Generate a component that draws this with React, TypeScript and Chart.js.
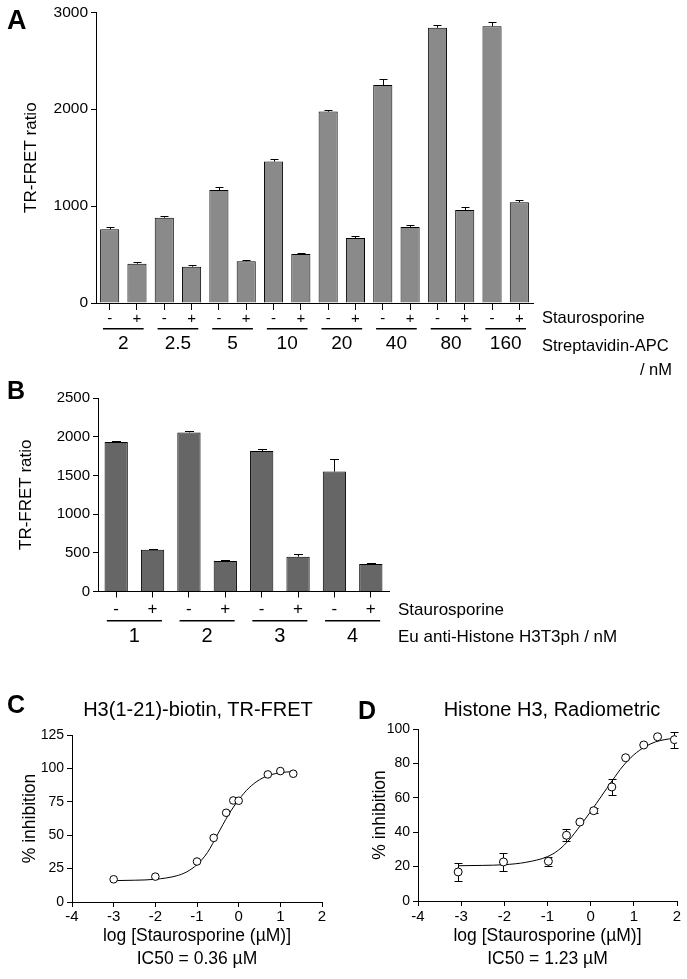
import React, { useEffect, useRef } from 'react';
import { Chart, registerables } from 'chart.js';
Chart.register(...registerables);

const FONT = '"Liberation Sans", Arial, Helvetica, sans-serif';
Chart.defaults.font.family = FONT;
Chart.defaults.color = '#000';

// ---------- Panel A data ----------
const aGroups = ['2', '2.5', '5', '10', '20', '40', '80', '160'];
const aMinus = [760, 880, 1165, 1460, 1975, 2250, 2840, 2855];
const aMinusErr = [20, 22, 30, 30, 12, 65, 30, 45];
const aPlus = [405, 375, 430, 505, 670, 785, 960, 1040];
const aPlusErr = [20, 20, 12, 12, 18, 15, 30, 20];

// ---------- Panel B data ----------
const bGroups = ['1', '2', '3', '4'];
const bMinus = [1930, 2055, 1815, 1550];
const bMinusErr = [20, 25, 22, 165];
const bPlus = [540, 395, 450, 355];
const bPlusErr = [15, 8, 30, 14];

// ---------- Panel C data ----------
const cX = [-3, -2, -1, -0.6, -0.3, -0.13, 0, 0.7, 1, 1.31];
const cY = [17, 19, 30.3, 48, 66.8, 76, 75.8, 95.5, 98, 96];
const cCurveX = [-3, -2.5, -2, -1.5, -1.25, -1, -0.75, -0.5, -0.25, 0, 0.25, 0.5, 0.75, 1, 1.3];
const cCurveY = [16, 16.3, 17, 19.5, 22.5, 28, 37, 51, 65, 76.5, 85.5, 91.5, 95, 96.8, 97.6];

// ---------- Panel D data ----------
const dX = [-3.07, -2.02, -0.98, -0.56, -0.25, 0.07, 0.49, 0.81, 1.23, 1.55, 1.94];
const dY = [16.9, 22.7, 23.1, 38.2, 45.9, 52.5, 66.3, 83.3, 90.7, 95.5, 93.8];
const dErr = [5, 5, 2.7, 3.5, 0, 1.5, 4.4, 0, 0, 0, 4.6];
const dCurveX = [-3.07, -2.5, -2, -1.5, -1, -0.75, -0.5, -0.25, 0, 0.25, 0.5, 0.75, 1, 1.25, 1.5, 1.94];
const dCurveY = [20.5, 20.7, 21.1, 22.5, 25.8, 29.5, 35.5, 43.5, 52, 61, 70, 78.5, 85, 89.5, 92.5, 94.8];

const signLabels = ['-', '+'];

function interleave(m: number[], p: number[]) {
  const out: number[] = [];
  m.forEach((v, i) => out.push(v, p[i]));
  return out;
}
function groupSigns(groups: string[]) {
  const out: string[] = [];
  groups.forEach(() => out.push(signLabels[0], signLabels[1]));
  return out;
}

function barErrorPlugin(errors: number[], capHalf: number) {
  return {
    id: 'barErr',
    afterDatasetsDraw(chart: any) {
      const ctx = chart.ctx;
      const meta = chart.getDatasetMeta(0);
      const ys = chart.scales.y;
      const data = chart.data.datasets[0].data as number[];
      ctx.save();
      ctx.strokeStyle = '#000';
      ctx.lineWidth = 1;
      meta.data.forEach((bar: any, i: number) => {
        const x = Math.round(bar.x) + 0.5;
        const y0 = ys.getPixelForValue(data[i]);
        const y1 = Math.round(ys.getPixelForValue(data[i] + errors[i])) + 0.5;
        ctx.beginPath();
        ctx.moveTo(x, y0);
        ctx.lineTo(x, y1);
        ctx.moveTo(x - capHalf, y1);
        ctx.lineTo(x + capHalf, y1);
        ctx.stroke();
      });
      ctx.restore();
    },
  };
}

function groupPlugin(groups: string[], o: { lineY: number; labelY: number; size: number; frac: number }) {
  return {
    id: 'groups',
    afterDraw(chart: any) {
      const xs = chart.scales.x;
      const ctx = chart.ctx;
      ctx.save();
      ctx.strokeStyle = '#000';
      ctx.lineWidth = 1.5;
      ctx.fillStyle = '#000';
      ctx.font = `${o.size}px ${FONT}`;
      ctx.textAlign = 'center';
      ctx.textBaseline = 'middle';
      groups.forEach((g, i) => {
        const x0 = xs.getPixelForValue(2 * i);
        const x1 = xs.getPixelForValue(2 * i + 1);
        const c = (x0 + x1) / 2;
        const h = (x1 - x0) * o.frac;
        ctx.beginPath();
        ctx.moveTo(c - h, o.lineY);
        ctx.lineTo(c + h, o.lineY);
        ctx.stroke();
        ctx.fillText(g, c, o.labelY);
      });
      ctx.restore();
    },
  };
}

function pointErrorPlugin(xs: number[], ys: number[], errs: number[], capHalf: number) {
  return {
    id: 'ptErr',
    beforeDatasetsDraw(chart: any) {
      const sx = chart.scales.x;
      const sy = chart.scales.y;
      const ctx = chart.ctx;
      ctx.save();
      ctx.strokeStyle = '#000';
      ctx.lineWidth = 1;
      xs.forEach((xv, i) => {
        if (!errs[i]) return;
        const x = Math.round(sx.getPixelForValue(xv)) + 0.5;
        const yt = Math.round(sy.getPixelForValue(ys[i] + errs[i])) + 0.5;
        const yb = Math.round(sy.getPixelForValue(ys[i] - errs[i])) + 0.5;
        ctx.beginPath();
        ctx.moveTo(x, yt);
        ctx.lineTo(x, yb);
        ctx.moveTo(x - capHalf, yt);
        ctx.lineTo(x + capHalf, yt);
        ctx.moveTo(x - capHalf, yb);
        ctx.lineTo(x + capHalf, yb);
        ctx.stroke();
      });
      ctx.restore();
    },
  };
}

const asText = (v: any) => String(v);

function barConfig(p: {
  groups: string[]; minus: number[]; plus: number[]; errM: number[]; errP: number[];
  color: string; barPct: number; top: number; right: number; yWidth: number; xHeight: number;
  yMax: number; yStep: number; yFont: number; xFont: number; xTick: number; xPad: number;
  titlePad: number; lineY: number; labelY: number; groupFont: number; frac: number; cap: number;
}) {
  return {
    type: 'bar',
    data: {
      labels: groupSigns(p.groups),
      datasets: [
        {
          data: interleave(p.minus, p.plus),
          backgroundColor: p.color,
          borderColor: '#000',
          borderWidth: 1,
          barPercentage: p.barPct,
          categoryPercentage: 1,
        },
      ],
    },
    options: {
      responsive: false,
      animation: false,
      devicePixelRatio: 1,
      layout: { padding: { top: p.top, right: p.right, left: 0, bottom: 0 } },
      plugins: { legend: { display: false }, tooltip: { enabled: false } },
      scales: {
        x: {
          grid: { display: true, drawOnChartArea: false, offset: false, tickLength: p.xTick, color: '#000', tickColor: '#000' },
          border: { display: true, color: '#000', width: 1 },
          ticks: { font: { size: p.xFont }, color: '#000', padding: p.xPad, maxRotation: 0, autoSkip: false },
          afterFit: (s: any) => { s.height = p.xHeight; },
        },
        y: {
          min: 0,
          max: p.yMax,
          ticks: { stepSize: p.yStep, font: { size: p.yFont }, color: '#000', padding: 3, callback: asText },
          grid: { display: true, drawOnChartArea: false, tickLength: 5, color: '#000', tickColor: '#000' },
          border: { display: true, color: '#000', width: 1 },
          title: { display: true, text: 'TR-FRET ratio', font: { size: 17 }, color: '#000', padding: { top: p.titlePad, bottom: 0 } },
          afterFit: (s: any) => { s.width = p.yWidth; },
        },
      },
    },
    plugins: [
      barErrorPlugin(interleave(p.errM, p.errP), p.cap),
      groupPlugin(p.groups, { lineY: p.lineY, labelY: p.labelY, size: p.groupFont, frac: p.frac }),
    ],
  };
}

function curveConfig(p: {
  px: number[]; py: number[]; cx: number[]; cy: number[]; errs: number[] | null;
  radius: number; top: number; right: number; yWidth: number; xHeight: number;
  yMax: number; yStep: number; titlePad: number; ic50: string; xPad: number;
}) {
  const plugins: any[] = [];
  if (p.errs) plugins.push(pointErrorPlugin(p.px, p.py, p.errs, 4));
  return {
    type: 'scatter',
    data: {
      datasets: [
        {
          data: p.px.map((x, i) => ({ x, y: p.py[i] })),
          pointRadius: p.radius,
          pointBackgroundColor: '#fff',
          pointBorderColor: '#000',
          pointBorderWidth: 1,
          showLine: false,
        },
        {
          type: 'line',
          data: p.cx.map((x, i) => ({ x, y: p.cy[i] })),
          borderColor: '#000',
          borderWidth: 1,
          pointRadius: 0,
          fill: false,
          cubicInterpolationMode: 'monotone',
        },
      ],
    },
    options: {
      responsive: false,
      animation: false,
      devicePixelRatio: 1,
      layout: { padding: { top: p.top, right: p.right, left: 0, bottom: 0 } },
      plugins: { legend: { display: false }, tooltip: { enabled: false } },
      scales: {
        x: {
          type: 'linear',
          min: -4,
          max: 2,
          ticks: { stepSize: 1, font: { size: 15 }, color: '#000', padding: p.xPad, callback: asText },
          grid: { display: true, drawOnChartArea: false, tickLength: 5, color: '#000', tickColor: '#000' },
          border: { display: true, color: '#000', width: 1 },
          title: {
            display: true,
            text: ['log [Staurosporine (\u00B5M)]', p.ic50],
            font: { size: 17.5, lineHeight: 23 / 17.5 },
            color: '#000',
            padding: { top: 0, bottom: 8 },
          },
          afterFit: (s: any) => { s.height = p.xHeight; },
        },
        y: {
          min: 0,
          max: p.yMax,
          ticks: { stepSize: p.yStep, font: { size: 14 }, color: '#000', padding: 3, callback: asText },
          grid: { display: true, drawOnChartArea: false, tickLength: 5, color: '#000', tickColor: '#000' },
          border: { display: true, color: '#000', width: 1 },
          title: { display: true, text: '% inhibition', font: { size: 17.5 }, color: '#000', padding: { top: p.titlePad, bottom: 0 } },
          afterFit: (s: any) => { s.width = p.yWidth; },
        },
      },
    },
    plugins,
  };
}

function ChartBox({ left, top, width, height, config }: { left: number; top: number; width: number; height: number; config: any }) {
  const ref = useRef<HTMLCanvasElement | null>(null);
  useEffect(() => {
    if (!ref.current) return;
    const chart = new Chart(ref.current, config);
    return () => chart.destroy();
  }, []);
  return (
    <canvas
      ref={ref}
      width={width}
      height={height}
      style={{ position: 'absolute', left, top, width, height, display: 'block' }}
    />
  );
}

function T({ x, y, s, b, a, children }: { x: number; y: number; s: number; b?: boolean; a?: string; children: any }) {
  return (
    <div
      style={{
        position: 'absolute',
        left: x,
        top: y - 0.49 * s,
        fontSize: s,
        fontWeight: b ? 'bold' : 'normal',
        lineHeight: 1,
        fontFamily: FONT,
        whiteSpace: 'nowrap',
        color: '#000',
        transform: a === 'center' ? 'translateX(-50%)' : a === 'right' ? 'translateX(-100%)' : undefined,
      }}
    >
      {children}
    </div>
  );
}

export default function App() {
  const configA = barConfig({
    groups: aGroups, minus: aMinus, plus: aPlus, errM: aMinusErr, errP: aPlusErr,
    color: '#8a8a8a', barPct: 0.7, top: 12, right: 154, yWidth: 96, xHeight: 77,
    yMax: 3000, yStep: 1000, yFont: 15.5, xFont: 15, xTick: 7, xPad: 0,
    titlePad: 21, lineY: 328.7, labelY: 343.5, groupFont: 19, frac: 0.745, cap: 4,
  });
  const configB = barConfig({
    groups: bGroups, minus: bMinus, plus: bPlus, errM: bMinusErr, errP: bPlusErr,
    color: '#666666', barPct: 0.64, top: 18, right: 298, yWidth: 98, xHeight: 58.5,
    yMax: 2500, yStep: 500, yFont: 15, xFont: 17, xTick: 6, xPad: 2,
    titlePad: 16, lineY: 240.7, labelY: 256.7, groupFont: 20, frac: 0.757, cap: 4.5,
  });
  const configC = curveConfig({
    px: cX, py: cY, cx: cCurveX, cy: cCurveY, errs: null, radius: 3.8,
    top: 75, right: 21, yWidth: 72, xHeight: 77, yMax: 125, yStep: 25, titlePad: 20,
    ic50: 'IC50 = 0.36 \u00B5M', xPad: 1,
  });
  const configD = curveConfig({
    px: dX, py: dY, cx: dCurveX, cy: dCurveY, errs: dErr, radius: 4,
    top: 69, right: 10, yWidth: 75, xHeight: 78, yMax: 100, yStep: 20, titlePad: 27,
    ic50: 'IC50 = 1.23 \u00B5M', xPad: 2,
  });

  return (
    <div style={{ position: 'absolute', left: 0, top: 0, width: 687, height: 979, background: '#fff', overflow: 'hidden' }}>
      <ChartBox left={0} top={0} width={687} height={380} config={configA} />
      <ChartBox left={0} top={380} width={687} height={270} config={configB} />
      <ChartBox left={0} top={660} width={343} height={319} config={configC} />
      <ChartBox left={343} top={660} width={344} height={319} config={configD} />

      <T x={7} y={20} s={27} b>A</T>
      <T x={542} y={317} s={16.5}>Staurosporine</T>
      <T x={542} y={345} s={16.5}>Streptavidin-APC</T>
      <T x={672} y={369} s={16.5} a="right">/ nM</T>

      <T x={7} y={390} s={25} b>B</T>
      <T x={398} y={609.5} s={17}>Staurosporine</T>
      <T x={398} y={636.5} s={17}>Eu anti-Histone H3T3ph / nM</T>

      <T x={7} y={704} s={25} b>C</T>
      <T x={198} y={709} s={20} a="center">H3(1-21)-biotin, TR-FRET</T>

      <T x={358} y={710.5} s={25} b>D</T>
      <T x={552} y={709} s={20} a="center">Histone H3, Radiometric</T>
    </div>
  );
}
